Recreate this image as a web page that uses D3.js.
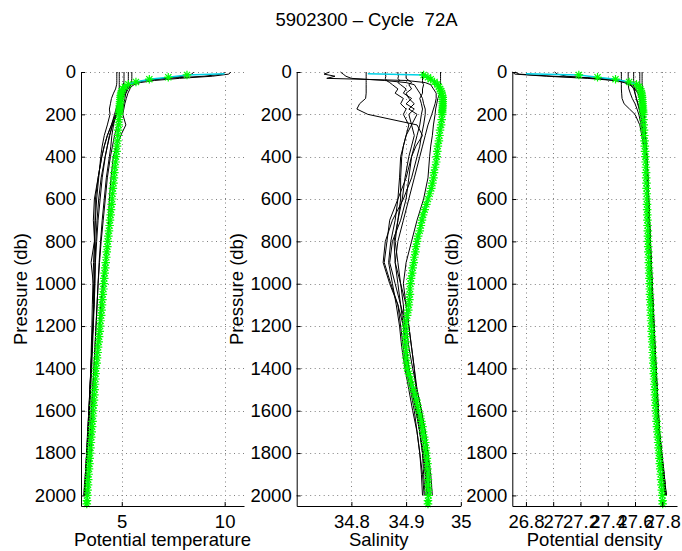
<!DOCTYPE html>
<html><head><meta charset="utf-8">
<script src="https://cdn.jsdelivr.net/npm/d3@7/dist/d3.min.js"></script>
<style>
body{margin:0;background:#fff;}
text{font-family:"Liberation Sans",Arial,Helvetica,sans-serif;fill:#000;}
</style>
</head><body>
<svg id="chart" width="682" height="551"></svg>
<script>
// ---------------- DATA ----------------
const TITLE = "5902300 \u2013 Cycle  72A";
const PRESSURE_TICKS = [0,200,400,600,800,1000,1200,1400,1600,1800,2000];
const TEMP_TICKS = [5,10];
const SAL_TICKS = [34.8,34.9,35];
const DENS_TICKS = [26.8,27,27.2,27.4,27.6,27.8];
const X_LABELS = ["Potential temperature","Salinity","Potential density"];
const Y_LABEL = "Pressure (db)";

// historical profiles (black) - shared pressure levels
const HIST_P = [0,10,20,30,40,50,60,80,100,125,150,175,200,250,300,350,400,500,600,700,800,900,1000,1100,1200,1300,1400,1500,1600,1700,1800,1900,2000];

const HIST_TEMP = [
 [10.3,10.2,9.4,7.8,6.6, 5.9,5.6,5.3,5.2,5.05, 4.95,4.85,4.75,4.55,4.42, 4.3,4.2,4.05,3.95,3.85, 3.78,3.72,3.68,3.64,3.6, 3.55,3.5,3.45,3.4,3.35, 3.3,3.24,3.18],
 [8.5,8.4,8.0,7.0,6.1, 5.6,5.4,5.2,5.1,5.0, 4.9,4.82,4.7,4.5,4.3, 4.15,4.03,3.85,3.72,3.7, 3.67,3.51,3.62,3.64,3.6, 3.55,3.5,3.45,3.4,3.34, 3.29,3.24,3.2],
 [10.0,9.9,9.0,7.2,6.2, 5.7,5.45,5.3,5.2,5.15, 5.1,5.05,4.95,4.8,4.65, 4.55,4.45,4.3,4.2,4.1, 4.0,3.92,3.85,3.8,3.75, 3.7,3.65,3.58,3.52,3.47, 3.42,3.36,3.3],
 [5.49,5.49,5.49,5.49,5.48, 5.47,5.45,5.4,5.3,5.22, 5.15,5.1,5.05,5.2,4.95, 4.75,4.59,4.48,4.4,4.36, 4.32,4.2,4.07,3.98,3.91, 3.82,3.75,3.68,3.62,3.56, 3.51,3.43,3.35],
 [5.32,5.32,5.32,5.32,5.32, 5.32,5.31,5.25,5.15,5.05, 4.95,4.85,4.75,4.55,4.4, 4.3,4.19,4.0,3.88,3.8, 3.74,3.7,3.7,3.66,3.62, 3.58,3.54,3.49,3.44,3.39, 3.33,3.27,3.22],
 [5.11,5.11,5.11,5.11,5.11, 5.1,5.08,5.03,4.98,4.9, 4.8,4.72,4.65,4.5,4.3, 4.15,4.03,3.85,3.67,3.62, 3.68,3.7,3.67,3.65,3.6, 3.55,3.51,3.46,3.41,3.36, 3.3,3.23,3.15],
 [4.88,4.88,4.88,4.88,4.88, 4.88,4.88,4.88,4.87,4.85, 4.82,4.78,4.72,4.6,4.52, 4.47,4.4,4.25,4.15,4.05, 3.97,3.9,3.85,3.8,3.75, 3.7,3.65,3.6,3.55,3.49, 3.44,3.38,3.32],
 [4.76,4.76,4.76,4.76,4.76, 4.76,4.75,4.7,4.6,4.5, 4.45,4.4,4.43,4.3,4.15, 4.05,3.98,3.88,3.78,3.72, 3.68,3.63,3.6,3.57,3.55, 3.52,3.5,3.46,3.42,3.37, 3.32,3.26,3.2]
];

const HIST_SAL = [
 [34.76,34.75,34.77,34.755,34.9, 34.935,34.945,34.95,34.955,34.955, 34.953,34.95,34.947,34.94,34.935, 34.93,34.925,34.915,34.905,34.895, 34.885,34.88,34.885,34.89,34.895, 34.9,34.905,34.912,34.918,34.925, 34.93,34.935,34.938],
 [34.78,34.785,34.79,34.80,34.86, 34.90,34.915,34.92,34.925,34.93, 34.932,34.935,34.935,34.932,34.928, 34.925,34.92,34.91,34.895,34.875, 34.862,34.858,34.87,34.885,34.895, 34.898,34.905,34.915,34.92,34.925, 34.93,34.932,34.935],
 [34.827,34.827,34.827,34.827,34.827, 34.827,34.827,34.827,34.827,34.826, 34.815,34.81,34.83,34.92,34.93, 34.918,34.91,34.9,34.885,34.87, 34.865,34.86,34.872,34.885,34.89, 34.895,34.9,34.908,34.915,34.92, 34.925,34.928,34.93],
 [34.862,34.862,34.863,34.862,34.864, 34.87,34.875,34.885,34.88,34.895, 34.89,34.9,34.895,34.905,34.9, 34.895,34.892,34.89,34.89,34.885, 34.88,34.885,34.89,34.895,34.897, 34.9,34.905,34.91,34.918,34.925, 34.932,34.936,34.94],
 [34.963,34.963,34.963,34.963,34.963, 34.963,34.963,34.963,34.962,34.958, 34.956,34.954,34.953,34.95,34.948, 34.945,34.943,34.94,34.932,34.92, 34.91,34.9,34.895,34.9,34.905, 34.91,34.915,34.92,34.928,34.935, 34.94,34.945,34.948],
 [34.93,34.93,34.93,34.93,34.93, 34.93,34.932,34.93,34.93,34.925, 34.928,34.93,34.928,34.925,34.92, 34.915,34.91,34.905,34.9,34.89, 34.875,34.87,34.88,34.89,34.9, 34.905,34.912,34.92,34.928,34.935, 34.94,34.942,34.944],
 [34.9,34.9,34.9,34.9,34.905, 34.91,34.905,34.91,34.9,34.905, 34.915,34.905,34.92,34.91,34.915, 34.91,34.905,34.898,34.893,34.885, 34.878,34.88,34.89,34.9,34.905, 34.91,34.915,34.918,34.922,34.928, 34.935,34.938,34.94],
 [34.885,34.885,34.886,34.885,34.888, 34.885,34.89,34.9,34.895,34.91, 34.9,34.915,34.905,34.91,34.9, 34.895,34.89,34.888,34.885,34.88, 34.872,34.868,34.875,34.882,34.888, 34.892,34.898,34.905,34.912,34.92, 34.925,34.93,34.933]
];

const HIST_DENS = [
 [26.70,26.72,26.95,27.25,27.45, 27.55,27.58,27.61,27.625,27.635, 27.645,27.652,27.658,27.667,27.674, 27.68,27.685,27.692,27.698,27.704, 27.71,27.716,27.722,27.728,27.735, 27.742,27.749,27.756,27.764,27.772, 27.79,27.805,27.82],
 [27.01,27.03,27.1,27.3,27.45, 27.52,27.56,27.6,27.62,27.635, 27.645,27.65,27.66,27.668,27.676, 27.682,27.688,27.695,27.7,27.706, 27.712,27.718,27.724,27.73,27.737, 27.744,27.752,27.76,27.768,27.777, 27.793,27.81,27.825],
 [26.72,26.75,27.0,27.35,27.5, 27.55,27.57,27.59,27.6,27.61, 27.62,27.63,27.64,27.655,27.665, 27.673,27.68,27.69,27.697,27.703, 27.709,27.715,27.721,27.727,27.734, 27.741,27.748,27.755,27.763,27.772, 27.788,27.803,27.818],
 [27.50,27.50,27.50,27.50,27.50, 27.50,27.50,27.50,27.502,27.505, 27.52,27.56,27.6,27.635,27.65, 27.665,27.675,27.687,27.695,27.702, 27.708,27.714,27.72,27.727,27.735, 27.743,27.751,27.759,27.767,27.776, 27.792,27.808,27.823],
 [27.635,27.635,27.635,27.635,27.635, 27.635,27.636,27.638,27.642,27.647, 27.652,27.656,27.66,27.667,27.674, 27.68,27.686,27.694,27.7,27.706, 27.713,27.719,27.725,27.732,27.739, 27.746,27.754,27.762,27.77,27.779, 27.795,27.812,27.828],
 [27.652,27.652,27.652,27.652,27.652, 27.652,27.653,27.655,27.657,27.66, 27.663,27.665,27.668,27.672,27.677, 27.682,27.687,27.695,27.701,27.707, 27.713,27.72,27.727,27.734,27.741, 27.748,27.756,27.764,27.772,27.781, 27.797,27.814,27.83],
 [27.55,27.55,27.55,27.55,27.55, 27.55,27.55,27.555,27.565,27.58, 27.6,27.615,27.628,27.645,27.66, 27.67,27.68,27.69,27.697,27.703, 27.71,27.716,27.723,27.73,27.737, 27.745,27.753,27.761,27.77,27.779, 27.796,27.813,27.829],
 [27.59,27.59,27.59,27.59,27.59, 27.59,27.59,27.595,27.6,27.61, 27.622,27.633,27.642,27.655,27.665, 27.674,27.682,27.692,27.699,27.705, 27.711,27.717,27.724,27.731,27.738, 27.745,27.753,27.761,27.769,27.778, 27.794,27.81,27.826]
];

// current cycle profile (cyan line with green stars)
const CUR_P = [
 8,14,25,34,47,58,70,80,90,100,
 110,120,130,140,150,160,170,180,190,200,
 225,250,275,300,325,350,375,400,425,450,
 475,500,525,550,575,600,625,650,675,700,
 725,750,775,800,825,850,875,900,925,950,
 975,1000,1025,1050,1075,1100,1125,1150,1175,1200,
 1225,1250,1275,1300,1325,1350,1375,1400,1425,1450,
 1475,1500,1525,1550,1575,1600,1625,1650,1675,1700,
 1725,1750,1775,1800,1825,1850,1875,1900,1925,1950,
 1975,2000,2025,2040];
const CUR_TEMP = [
 10.0,8.17,7.26,6.34,5.69,5.32,5.15,5.06,5.00,4.97,
 4.95,4.94,4.93,4.92,4.91,4.90,4.90,4.89,4.88,4.88,
 4.86,4.85,4.83,4.81,4.79,4.77,4.75,4.72,4.70,4.67,
 4.64,4.62,4.60,4.57,4.55,4.53,4.51,4.48,4.46,4.43,
 4.41,4.38,4.35,4.32,4.30,4.27,4.25,4.22,4.20,4.17,
 4.15,4.13,4.11,4.08,4.06,4.04,4.02,4.00,3.97,3.95,
 3.93,3.90,3.88,3.85,3.83,3.80,3.78,3.75,3.73,3.72,
 3.70,3.68,3.67,3.65,3.63,3.62,3.60,3.58,3.56,3.54,
 3.52,3.50,3.48,3.46,3.44,3.43,3.41,3.39,3.37,3.36,
 3.34,3.33,3.31,3.30];
const CUR_SAL = [
 34.83,34.932,34.94,34.945,34.952,34.957,34.96,34.962,34.964,34.965,
 34.966,34.967,34.967,34.967,34.967,34.967,34.967,34.966,34.966,34.966,
 34.965,34.964,34.962,34.961,34.96,34.958,34.957,34.956,34.955,34.953,
 34.951,34.95,34.948,34.946,34.943,34.94,34.937,34.934,34.931,34.929,
 34.927,34.925,34.922,34.92,34.918,34.917,34.915,34.914,34.912,34.911,
 34.909,34.908,34.907,34.907,34.906,34.905,34.904,34.902,34.9,34.899,
 34.899,34.899,34.899,34.899,34.9,34.9,34.901,34.902,34.905,34.908,
 34.91,34.913,34.916,34.919,34.921,34.923,34.926,34.928,34.93,34.931,
 34.933,34.935,34.936,34.937,34.938,34.939,34.939,34.94,34.94,34.94,
 34.941,34.941,34.94,34.94];
const CUR_DENS = [
 26.80,27.188,27.325,27.457,27.557,27.611,27.63,27.638,27.644,27.648,
 27.65,27.652,27.653,27.655,27.656,27.657,27.658,27.659,27.66,27.66,
 27.662,27.664,27.666,27.668,27.67,27.672,27.674,27.676,27.678,27.68,
 27.681,27.682,27.684,27.685,27.686,27.687,27.688,27.689,27.69,27.691,
 27.692,27.694,27.695,27.696,27.697,27.698,27.70,27.701,27.703,27.704,
 27.706,27.707,27.708,27.71,27.711,27.713,27.715,27.716,27.718,27.72,
 27.722,27.724,27.726,27.728,27.73,27.732,27.734,27.736,27.738,27.74,
 27.742,27.744,27.746,27.748,27.75,27.752,27.755,27.758,27.761,27.764,
 27.767,27.77,27.773,27.776,27.779,27.782,27.785,27.788,27.791,27.794,
 27.797,27.80,27.802,27.803];

// ---------------- DRAW ----------------
const svg = d3.select("#chart");
const FS = 18.5;
const plotTop = 72, plotBottom = 506;
const y = d3.scaleLinear().domain([0, 2050]).range([plotTop, plotBottom]);

const panels = [
  {dom:[3.02,10.94], left:81,    right:244,   ticks:TEMP_TICKS, hist:HIST_TEMP, cur:CUR_TEMP, label:X_LABELS[0]},
  {dom:[34.7,35.0],  left:296.7, right:460.8, ticks:SAL_TICKS,  hist:HIST_SAL,  cur:CUR_SAL,  label:X_LABELS[1]},
  {dom:[26.7,27.908],left:512.3, right:677,   ticks:DENS_TICKS, hist:HIST_DENS, cur:CUR_DENS, label:X_LABELS[2]}
];

svg.append("text").attr("x", 366.5).attr("y", 26).attr("text-anchor","middle")
  .style("white-space","pre").attr("font-size", FS).text(TITLE);

const star = (r) => {
  const a = r * 0.72;
  return `M${-r},0L${r},0M0,${-r}L0,${r}M${-a},${-a}L${a},${a}M${-a},${a}L${a},${-a}`;
};

panels.forEach(pn => {
  const x = d3.scaleLinear().domain(pn.dom).range([pn.left, pn.right]);
  const g = svg.append("g");

  // grid
  const grid = g.append("g").attr("stroke","#808080").attr("stroke-width",1)
    .attr("stroke-dasharray","1,3.5").attr("fill","none");
  PRESSURE_TICKS.forEach(p => {
    grid.append("line").attr("x1", pn.left).attr("x2", pn.right)
      .attr("y1", Math.round(y(p))+0.5).attr("y2", Math.round(y(p))+0.5);
  });
  pn.ticks.forEach(t => {
    grid.append("line").attr("y1", plotTop).attr("y2", plotBottom)
      .attr("x1", Math.round(x(t))+0.5).attr("x2", Math.round(x(t))+0.5);
  });

  // historical profiles
  const line = d3.line().x(d => x(d[1])).y(d => y(d[0]));
  pn.hist.forEach(arr => {
    const pts = HIST_P.map((p,i) => [p, arr[i]]).filter(d => d[1] !== undefined);
    g.append("path").attr("d", line(pts)).attr("fill","none")
      .attr("stroke","#000").attr("stroke-width",1);
  });

  // current profile
  const n = Math.min(CUR_P.length, pn.cur.length);
  const cur = d3.range(n).map(i => [CUR_P[i], pn.cur[i]]);
  g.append("path").attr("d", line(cur)).attr("fill","none")
    .attr("stroke","#00d2e6").attr("stroke-width",1.6);
  g.append("g").selectAll("path").data(cur.slice(1)).join("path")
    .attr("transform", d => `translate(${x(d[1])},${y(d[0])})`)
    .attr("d", star(4.3)).attr("fill","none")
    .attr("stroke","#00ff00").attr("stroke-width",1.2);

  // axes
  const ax = d3.axisLeft(y).tickValues(PRESSURE_TICKS).tickSize(-4).tickSizeOuter(0).tickPadding(5)
    .tickFormat(d => String(d));
  const gy = svg.append("g").attr("transform", `translate(${pn.left},0)`).call(ax);
  const bx = d3.axisBottom(x).tickValues(pn.ticks).tickSize(-4).tickSizeOuter(0).tickPadding(9)
    .tickFormat(d => String(d));
  const gx = svg.append("g").attr("transform", `translate(0,${plotBottom})`).call(bx);
  [gy, gx].forEach(a => {
    a.attr("font-size", FS).attr("font-family", null);
    a.selectAll("text").attr("fill","#000");
    a.selectAll("line").attr("stroke","#000");
    a.select(".domain").attr("stroke","#000").attr("stroke-width",1);
  });

  // labels
  svg.append("text").attr("x", (pn.left + pn.right)/2).attr("y", 546)
    .attr("text-anchor","middle").attr("font-size", FS).text(pn.label);
  svg.append("text").attr("transform", `translate(${pn.left - 54},${(plotTop+plotBottom)/2}) rotate(-90)`)
    .attr("text-anchor","middle").attr("font-size", FS).text(Y_LABEL);
});
</script>
</body></html>
